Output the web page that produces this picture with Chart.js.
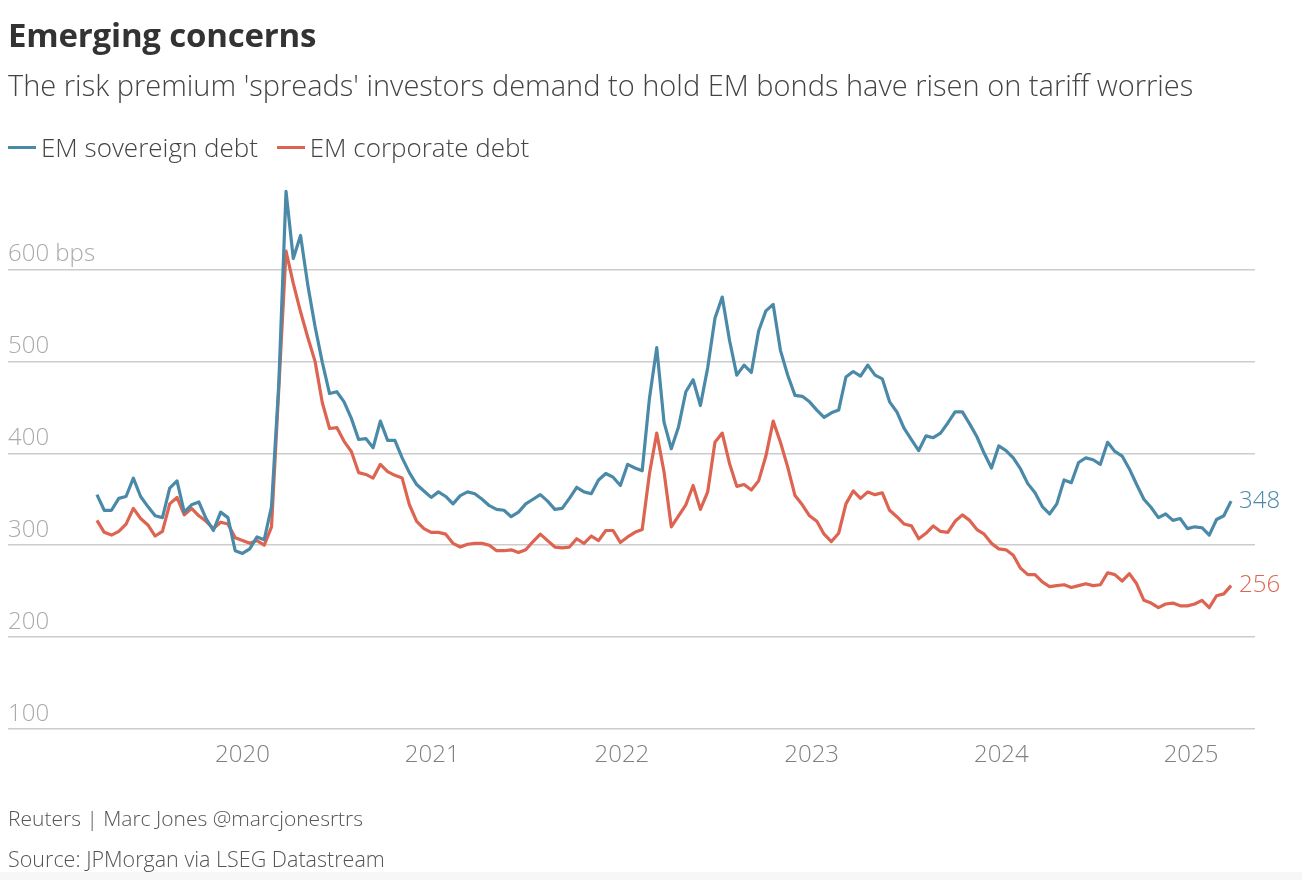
<!DOCTYPE html>
<html lang="en">
<head>
  <meta charset="UTF-8">
  <title>Emerging concerns</title>
  <style>
    body { margin: 0; background: #fff; font-family: 'Open Sans', Arial, sans-serif; }
    .page { position: relative; width: 1310px; height: 880px; overflow: hidden; }
    .txt { position: absolute; left: 8px; line-height: 1; white-space: nowrap; }
    .title { top: 18px; font-size: 33px; font-weight: 700; color: #333; letter-spacing: -0.2px; }
    .subtitle { top: 70px; font-size: 29px; font-weight: 300; color: #444; }
    .legend { top: 134px; font-size: 26px; font-weight: 300; color: #444; }
    .legend .key { display: inline-block; width: 28px; height: 3px; vertical-align: 8px; margin-right: 5px; }
    .legend .item { margin-right: 12px; }
    .foot1 { top: 808px; font-size: 21px; font-weight: 300; color: #555; }
    .foot2 { top: 848px; font-size: 21.5px; font-weight: 300; color: #555; }
    .band { position: absolute; left: 0; top: 872px; width: 1302px; height: 8px; background: #f7f7f7; }
    #chart { position: absolute; left: 0; top: 0; }
  </style>
</head>
<body>
  <div class="page">
    <canvas id="chart" width="1310" height="880"></canvas>
    <div class="txt title">Emerging concerns</div>
    <div class="txt subtitle">The risk premium 'spreads' investors demand to hold EM bonds have risen on tariff worries</div>
    <div class="txt legend">
      <span class="item"><span class="key" style="background:#4a8aa8"></span>EM sovereign debt</span>
      <span class="item"><span class="key" style="background:#dc6450"></span>EM corporate debt</span>
    </div>
    <div class="txt foot1">Reuters | Marc Jones @marcjonesrtrs</div>
    <div class="txt foot2">Source: JPMorgan via LSEG Datastream</div>
    <div class="band"></div>
  </div>
  <script src="https://cdn.jsdelivr.net/npm/chart.js"></script>
  <script>
    // fortnightly readings, first one on START_DATE
    const START_DATE = '2019-03-27';
    const STEP_DAYS = 14;

    const sovereign = [
      355, 338, 338, 351, 353, 373, 353, 342, 332, 330,
      362, 370, 336, 344, 347, 329, 316, 336, 330, 294,
      291, 296, 309, 306, 342, 475, 685, 612, 637, 583,
      538, 499, 465, 467, 456, 438, 415, 416, 406, 435,
      414, 414, 395, 379, 366, 359, 352, 358, 353, 345,
      354, 358, 356, 350, 343, 339, 338, 331, 336, 345,
      350, 355, 348, 339, 340, 351, 363, 358, 356, 371,
      378, 374, 365, 388, 384, 381, 460, 515, 434, 405,
      429, 467, 480, 452, 493, 547, 570, 523, 485, 496,
      488, 533, 555, 562, 512, 485, 463, 462, 456, 447,
      439, 444, 447, 483, 489, 484, 496, 485, 481, 456,
      445, 427, 415, 403, 419, 417, 422, 433, 445, 445,
      432, 418, 400, 384, 408, 403, 395, 383, 367, 357,
      342, 334, 345, 371, 368, 390, 395, 393, 388, 412,
      402, 397, 383, 366, 350, 341, 330, 334, 327, 329,
      318, 320, 319, 311, 328, 332, 348
    ];
    const corporate = [
      327, 314, 311, 315, 323, 340, 329, 322, 310, 315,
      345, 352, 333, 340, 332, 326, 318, 325, 323, 308,
      305, 302, 305, 300, 320, 470, 620, 585, 554, 526,
      500, 455, 427, 428, 413, 402, 379, 377, 373, 388,
      380, 376, 373, 344, 326, 318, 314, 314, 312, 302,
      298, 301, 302, 302, 300, 294, 294, 295, 292, 295,
      304, 312, 305, 298, 297, 298, 307, 302, 310, 305,
      316, 316, 303, 309, 314, 317, 378, 422, 380, 320,
      332, 344, 365, 339, 358, 412, 422, 389, 364, 366,
      360, 370, 397, 435, 412, 385, 354, 344, 332, 326,
      312, 304, 313, 345, 359, 351, 358, 355, 357, 338,
      331, 323, 321, 307, 313, 321, 315, 314, 326, 333,
      327, 317, 312, 302, 296, 295, 289, 275, 268, 268,
      260, 255, 256, 257, 254, 256, 258, 256, 257, 270,
      268, 261, 269, 258, 240, 237, 232, 236, 237, 234,
      234, 236, 240, 232, 245, 247, 256
    ];
    const yearTicks = [2020, 2021, 2022, 2023, 2024, 2025];
    const COLORS = { sov: '#4a8aa8', corp: '#dc6450' };

    // dates -> decimal years for the linear x axis
    function decYear(d) {
      const y = d.getUTCFullYear();
      const a = Date.UTC(y, 0, 1), b = Date.UTC(y + 1, 0, 1);
      return y + (d.getTime() - a) / (b - a);
    }
    const t0 = new Date(START_DATE + 'T00:00:00Z');
    const xs = sovereign.map((_, i) => decYear(new Date(t0.getTime() + i * STEP_DAYS * 864e5)));
    const pts = arr => arr.map((v, i) => ({ x: xs[i], y: v }));

    const endLabels = {
      id: 'endLabels',
      afterDatasetsDraw(chart) {
        const ctx = chart.ctx;
        ctx.save();
        ctx.font = '300 24px "Open Sans"';
        ctx.textBaseline = 'middle';
        ctx.textAlign = 'left';
        chart.data.datasets.forEach((ds, i) => {
          const meta = chart.getDatasetMeta(i);
          const last = meta.data[meta.data.length - 1];
          ctx.fillStyle = ds.borderColor;
          ctx.fillText(String(ds.data[ds.data.length - 1].y), last.x + 8, last.y);
        });
        ctx.restore();
      }
    };

    new Chart(document.getElementById('chart'), {
      type: 'line',
      data: {
        datasets: [
          { label: 'EM sovereign debt', data: pts(sovereign), borderColor: COLORS.sov, borderWidth: 3.2, pointRadius: 0, tension: 0, borderJoinStyle: 'round' },
          { label: 'EM corporate debt', data: pts(corporate), borderColor: COLORS.corp, borderWidth: 3.2, pointRadius: 0, tension: 0, borderJoinStyle: 'round' }
        ]
      },
      options: {
        responsive: false,
        animation: false,
        layout: { padding: { top: 177.6, left: 8, right: 55, bottom: 111 } },
        plugins: { legend: { display: false }, tooltip: { enabled: false } },
        scales: {
          x: {
            type: 'linear',
            min: 2018.764,
            max: 2025.337,
            afterBuildTicks: s => { s.ticks = yearTicks.map(v => ({ value: v })); },
            afterFit: s => { s.height = 40; },
            grid: { display: false, drawTicks: false },
            border: { display: false },
            ticks: { autoSkip: false, maxRotation: 0, padding: 12, color: '#808080', font: { family: 'Open Sans', size: 24, weight: 300 }, callback: v => String(v) }
          },
          y: {
            min: 100,
            max: 700,
            border: { display: false },
            grid: {
              drawTicks: false,
              lineWidth: 1.5,
              color: c => c.tick && c.tick.value === 700 ? 'rgba(0,0,0,0)' : '#cccccc'
            },
            ticks: {
              stepSize: 100,
              mirror: true,
              padding: 0,
              labelOffset: -15,
              color: '#aaaaaa',
              font: { family: 'Open Sans', size: 24, weight: 300 },
              callback: v => v === 700 ? '' : (v === 600 ? '600 bps' : String(v))
            }
          }
        }
      },
      plugins: [endLabels]
    });
  </script>
</body>
</html>
